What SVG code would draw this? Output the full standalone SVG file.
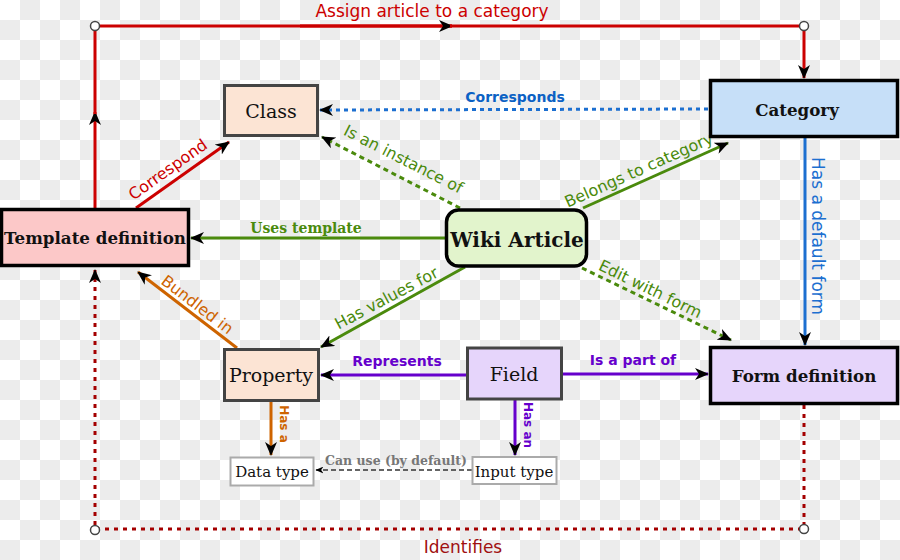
<svg xmlns="http://www.w3.org/2000/svg" width="900" height="560" viewBox="0 0 900 560">
<defs>
<pattern id="chk" width="40" height="40" patternUnits="userSpaceOnUse">
<rect width="40" height="40" fill="#ffffff"/>
<rect x="20" y="0" width="20" height="20" fill="#ececec"/>
<rect x="0" y="20" width="20" height="20" fill="#ececec"/>
</pattern>
<marker id="ah" viewBox="0 0 14 12" refX="13" refY="6" markerWidth="14" markerHeight="12" markerUnits="userSpaceOnUse" orient="auto">
<path d="M0,0 L14,6 L0,12 L4,6 z" fill="#000"/>
</marker>
<marker id="ahs" viewBox="0 0 14 12" refX="13" refY="6" markerWidth="8" markerHeight="7" markerUnits="userSpaceOnUse" orient="auto">
<path d="M0,0 L14,6 L0,12 L4,6 z" fill="#000"/>
</marker>
</defs>
<style>
.sans{font-family:"DejaVu Sans","Liberation Sans",sans-serif;}
.serif{font-family:"DejaVu Serif","Liberation Serif",serif;}
.b{font-weight:bold;}
.mid{text-anchor:middle;}
.nodeA{stroke:#000;stroke-width:3.5;}
.nodeB{stroke:#444;stroke-width:3;}
.nodeC{stroke:#aaa;stroke-width:2;fill:#fff;}
.ln{fill:none;}
.red{stroke:#cc0000;stroke-width:3;}
.green{stroke:#4a8a0c;stroke-width:3;}
.gdash{stroke:#4a8a0c;stroke-width:3;stroke-dasharray:5,4;}
.blue{stroke:#1c6fd0;stroke-width:3;}
.bdot{stroke:#1c6fd0;stroke-width:3;stroke-dasharray:4,4;}
.purple{stroke:#6600cc;stroke-width:3;}
.orange{stroke:#ce6400;stroke-width:3;}
.dred{stroke:#a40000;stroke-width:3;stroke-dasharray:4,5;}
.grey{stroke:#333;stroke-width:1.5;stroke-dasharray:5,3;}
.dot{fill:#fff;stroke:#444;stroke-width:1.5;}
</style>
<rect width="900" height="560" fill="url(#chk)"/>

<g id="connectors">
<!-- Assign article to a category -->
<path class="ln red" d="M95,208 V112" marker-end="url(#ah)"/>
<path class="ln red" d="M95,114 V26 H452"/>
<path class="ln red" d="M300,26 H452" marker-end="url(#ah)"/>
<path class="ln red" d="M450,26 H804 V78" marker-end="url(#ah)"/>
<circle class="dot" cx="95" cy="26" r="4.5"/>
<circle class="dot" cx="804" cy="26" r="4.5"/>
<text class="sans mid" x="432" y="17" font-size="17" fill="#cc0000">Assign article to a category</text>
<!-- Correspond -->
<path class="ln red" d="M136,208 L229,142" marker-end="url(#ah)"/>
<text class="sans mid" font-size="16" fill="#cc0000" transform="translate(171,174) rotate(-35.5)">Correspond</text>
<!-- Corresponds -->
<path class="ln bdot" d="M708,109 L320,110" marker-end="url(#ah)"/>
<text class="sans b mid" x="515" y="102" font-size="14" fill="#0b61c4">Corresponds</text>
<!-- Is an instance of -->
<path class="ln gdash" d="M460,208 L322,137" marker-end="url(#ah)"/>
<text class="sans mid" font-size="16" fill="#4a8a0c" transform="translate(401,164) rotate(27)">Is an instance of</text>
<!-- Belongs to category -->
<path class="ln green" d="M583,208 L728,143" marker-end="url(#ah)"/>
<text class="sans mid" font-size="16" fill="#4a8a0c" transform="translate(641,175) rotate(-24)">Belongs to category</text>
<!-- Uses template -->
<path class="ln green" d="M446,238 L191,238" marker-end="url(#ah)"/>
<text class="serif b mid" x="306" y="233" font-size="14" fill="#4a8a0c">Uses template</text>
<!-- Has values for -->
<path class="ln green" d="M465,267 L321,347" marker-end="url(#ah)"/>
<text class="sans mid" font-size="16" fill="#4a8a0c" transform="translate(389,303) rotate(-28)">Has values for</text>
<!-- Edit with form -->
<path class="ln gdash" d="M582,268 L731,340" marker-end="url(#ah)"/>
<text class="sans mid" font-size="16" fill="#4a8a0c" transform="translate(648,294) rotate(26)">Edit with form</text>
<!-- Has a default form -->
<path class="ln blue" d="M805,138 V345" marker-end="url(#ah)"/>
<text class="sans mid" font-size="17" fill="#1c6fd0" transform="translate(812,236) rotate(90)">Has a default form</text>
<!-- Is a part of -->
<path class="ln purple" d="M562,374 L708,374" marker-end="url(#ah)"/>
<text class="sans b mid" x="633" y="365" font-size="14" fill="#6600cc">Is a part of</text>
<!-- Represents -->
<path class="ln purple" d="M467,375 L321,375" marker-end="url(#ah)"/>
<text class="sans b mid" x="397" y="366" font-size="14" fill="#6600cc">Represents</text>
<!-- Bundled in -->
<path class="ln orange" d="M237,348 L138,272" marker-end="url(#ah)"/>
<text class="sans mid" font-size="16" fill="#ce6400" transform="translate(194,309) rotate(37.5)">Bundled in</text>
<!-- Has a -->
<path class="ln orange" d="M271,401 V455" marker-end="url(#ah)"/>
<text class="sans b mid" font-size="12" fill="#ce6400" transform="translate(280,424) rotate(90)">Has a</text>
<!-- Has an -->
<path class="ln purple" d="M515,400 V455" marker-end="url(#ah)"/>
<text class="sans b mid" font-size="12" fill="#6600cc" transform="translate(524,425) rotate(90)">Has an</text>
<!-- Can use (by default) -->
<path class="ln grey" d="M472,470 L316,470" marker-end="url(#ahs)"/>
<text class="serif b mid" x="396" y="465" font-size="12.5" fill="#777">Can use (by default)</text>
<!-- Identifies -->
<path class="ln dred" d="M804,405 V529 H95 V270" marker-end="url(#ah)"/>
<circle class="dot" cx="804" cy="529" r="4.5"/>
<circle class="dot" cx="95" cy="530" r="4.5"/>
<text class="sans mid" x="463" y="553" font-size="17" fill="#a01010">Identifies</text>
</g>

<g id="class">
<rect class="nodeB" x="224.5" y="85.5" width="93" height="50" fill="#fce4d4"/>
<text class="serif mid" x="271" y="118" font-size="19" fill="#111">Class</text>
</g>
<g id="category">
<rect class="nodeA" x="710.5" y="80.5" width="187" height="56" fill="#c6dff8"/>
<text class="serif b mid" x="797" y="116" font-size="16.7" fill="#111">Category</text>
</g>
<g id="template-definition">
<rect class="nodeA" x="1.5" y="209.5" width="187" height="56" fill="#fcc8c8"/>
<text class="serif b mid" x="95" y="244" font-size="16.7" fill="#111">Template definition</text>
</g>
<g id="wiki-article">
<rect class="nodeA" x="446.5" y="210" width="140" height="56" rx="12" fill="#e2f4cc"/>
<text class="serif b mid" x="517" y="247" font-size="20" fill="#111">Wiki Article</text>
</g>
<g id="property">
<rect class="nodeB" x="224.5" y="349.5" width="94" height="51" fill="#fce4d4"/>
<text class="serif mid" x="271" y="382" font-size="19" fill="#111">Property</text>
</g>
<g id="field">
<rect class="nodeB" x="467.5" y="348" width="94" height="51" fill="#e6d5fb"/>
<text class="serif mid" x="514" y="381" font-size="19" fill="#111">Field</text>
</g>
<g id="form-definition">
<rect class="nodeA" x="710.5" y="347.5" width="187" height="56" fill="#e6d5fb"/>
<text class="serif b mid" x="804" y="382" font-size="16.7" fill="#111">Form definition</text>
</g>
<g id="data-type">
<rect class="nodeC" x="230.5" y="457.5" width="83" height="28"/>
<text class="serif mid" x="272" y="477" font-size="15" fill="#111">Data type</text>
</g>
<g id="input-type">
<rect class="nodeC" x="472.5" y="457" width="84" height="27"/>
<text class="serif mid" x="514" y="477" font-size="15" fill="#111">Input type</text>
</g>
</svg>
